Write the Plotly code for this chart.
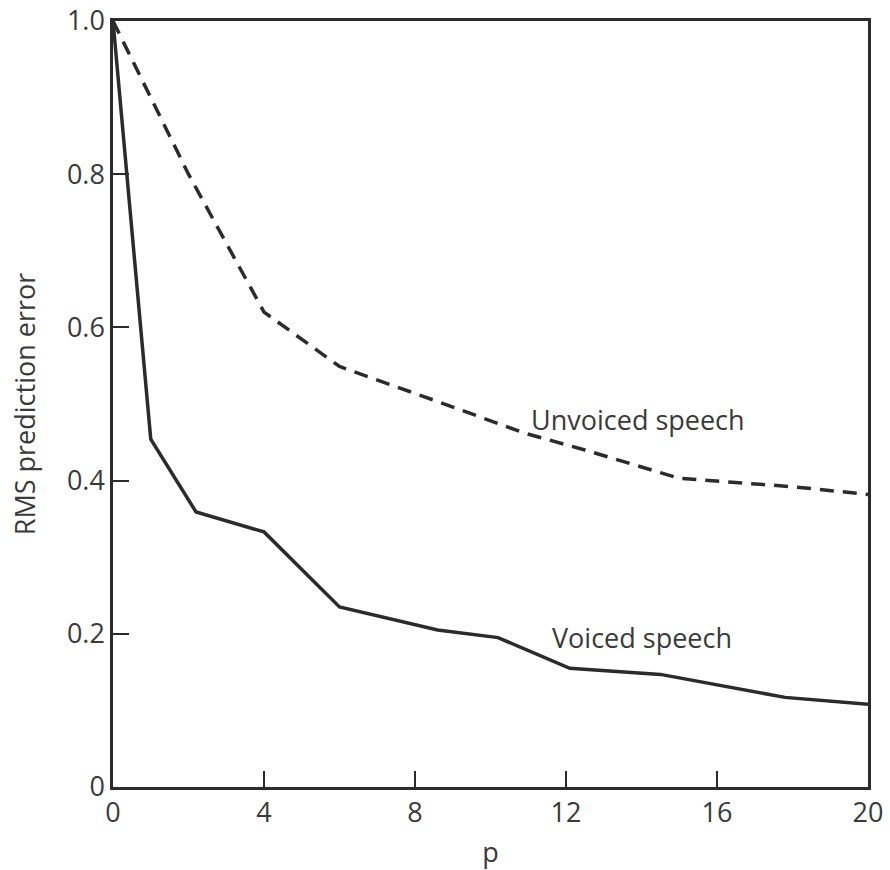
import plotly.graph_objects as go

p_voiced = [0, 1, 2.2, 4, 6, 8.6, 10.2, 12.1, 14.5, 17.8, 20]
rms_voiced = [1.0, 0.454, 0.359, 0.333, 0.235, 0.205, 0.195, 0.155, 0.147, 0.117, 0.108]

p_unvoiced = [0, 2, 4, 6, 8.5, 10.9, 12.5, 15.0, 18, 20]
rms_unvoiced = [1.0, 0.80, 0.62, 0.549, 0.505, 0.462, 0.44, 0.403, 0.392, 0.382]

x_ticks = [0, 4, 8, 12, 16, 20]
y_ticks = [0, 0.2, 0.4, 0.6, 0.8, 1.0]
y_tick_text = ["0", "0.2", "0.4", "0.6", "0.8", "1.0"]

label_unvoiced = ("Unvoiced speech", 13.9, 0.48)
label_voiced = ("Voiced speech", 14.0, 0.195)

LINE = "#2b2b2b"
TEXT = "#3a3a3a"
FONT = "Open Sans"

fig = go.Figure()
fig.add_trace(go.Scatter(x=p_unvoiced, y=rms_unvoiced, mode="lines",
                         line=dict(color=LINE, width=3.5, dash="14px,9px"),
                         showlegend=False))
fig.add_trace(go.Scatter(x=p_voiced, y=rms_voiced, mode="lines",
                         line=dict(color=LINE, width=3.5),
                         showlegend=False))

for txt, x, y in (label_unvoiced, label_voiced):
    fig.add_annotation(x=x, y=y, text=txt, showarrow=False,
                       font=dict(family=FONT, size=27, color=TEXT))

fig.update_layout(
    width=890, height=870,
    margin=dict(l=113, r=22, t=21, b=83),
    paper_bgcolor="white", plot_bgcolor="white",
    font=dict(family=FONT, color=TEXT),
)
fig.update_xaxes(range=[0, 20], tickvals=x_ticks, ticks="inside", ticklen=16,
                 tickwidth=2, tickcolor=LINE, showline=True, linecolor=LINE,
                 linewidth=2.5, mirror=True, showgrid=False, zeroline=False,
                 automargin=False, ticklabeloverflow="allow",
                 tickfont=dict(size=27, family=FONT, color=TEXT),
                 title=dict(text="p", font=dict(size=27, family=FONT, color=TEXT), standoff=44))
fig.update_yaxes(range=[0, 1.0], tickvals=y_ticks, ticktext=y_tick_text,
                 ticks="inside", ticklen=16, tickwidth=2, tickcolor=LINE,
                 showline=True, linecolor=LINE, linewidth=2.5, mirror=True,
                 showgrid=False, zeroline=False, automargin=False,
                 ticklabeloverflow="allow",
                 tickfont=dict(size=27, family=FONT, color=TEXT),
                 title=dict(text="RMS prediction error", font=dict(size=27, family=FONT, color=TEXT), standoff=24))

fig.write_html("out.html")
